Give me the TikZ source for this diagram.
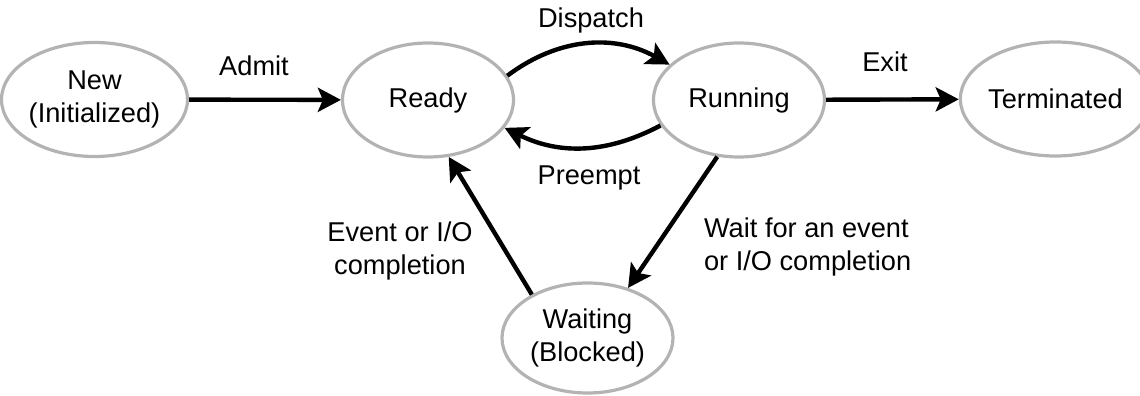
\documentclass[tikz,border=0pt]{standalone}
\usepackage{fontspec}
\setmainfont{Liberation Sans}
\usetikzlibrary{arrows.meta}
\usetikzlibrary{shapes.geometric}
\definecolor{stategray}{HTML}{B3B3B3}

\begin{document}
\begin{tikzpicture}[x=0.5pt, y=0.5pt,
    proc/.style={ellipse, draw=stategray, line width=1.6pt, minimum width=85.5pt,
        minimum height=57pt, inner sep=0pt, align=center,
        font=\fontsize{13.6}{16.5}\selectfont},
    lbl/.style={font=\fontsize{13.6}{16.5}\selectfont},
    arr/.style={line width=2.2pt, -{Stealth[length=11.5pt, width=12pt, inset=2.5pt]}}]
    \useasboundingbox (0,0) rectangle (1140,396);

    % States
    \node[proc] (new) at (94.5,296.5) {New\\(Initialized)};
    \node[proc] (ready) at (428,296) {Ready};
    \node[proc] (running) at (739,296) {Running};
    \node[proc] (term) at (1055.5,297) {Terminated};
    \node[proc, minimum height=55pt] (waiting) at (587.5,58) {Waiting\\(Blocked)};

    % Transitions
    \draw[arr] (new) -- (ready);
    \draw[arr] (ready.17) to[bend left=33] (running.153);
    \draw[arr] (running.198) to[bend left=27] (ready.340);
    \draw[arr] (running) -- (term);
    \draw[arr] (running.249) -- (waiting.51);
    \draw[arr] (waiting.142) -- (ready.290);

    % Labels
    \node[lbl, anchor=base] (admit) at (254,320) {Admit};
    \node[lbl, anchor=base] (dispatch) at (591,368) {Dispatch};
    \node[lbl, anchor=base] (preempt) at (589,211) {Preempt};
    \node[lbl, anchor=base] (exit) at (885,324) {Exit};
    \node[lbl, align=left, anchor=west] (waitlbl) at (697,149) {Wait for an event\\or I/O completion};
    \node[lbl, align=center] (eventlbl) at (400,145) {Event or I/O\\completion};
\end{tikzpicture}
\end{document}
